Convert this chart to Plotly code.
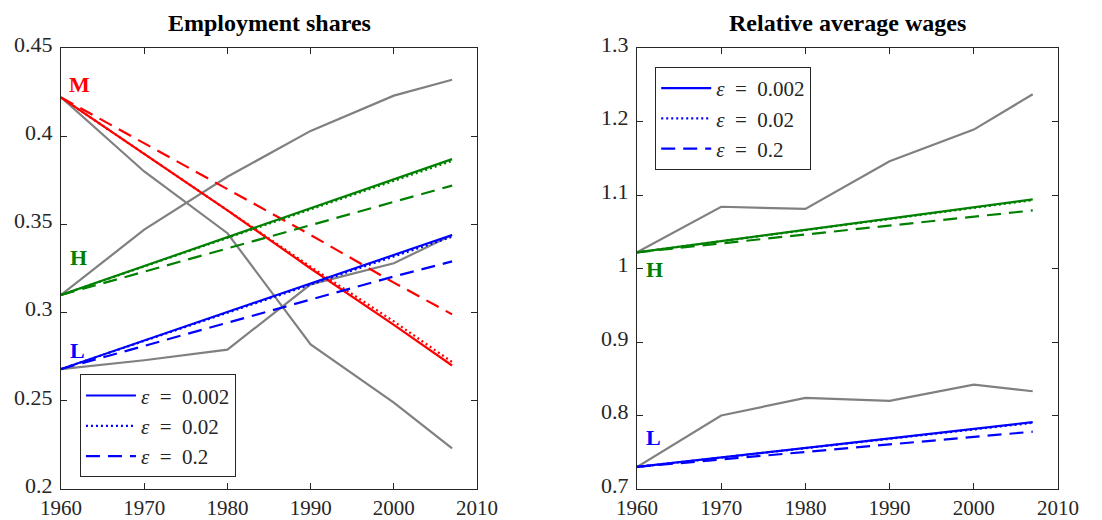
import plotly.graph_objects as go

years = [1960, 1970, 1980, 1990, 2000, 2007]

# Employment shares - data (grey)
emp_data_H = [0.310, 0.347, 0.377, 0.403, 0.423, 0.432]
emp_data_M = [0.422, 0.380, 0.345, 0.282, 0.249, 0.223]
emp_data_L = [0.268, 0.273, 0.279, 0.316, 0.328, 0.344]

# Employment shares - model
emp_M = {"0.002": [0.422, 0.390, 0.358, 0.325, 0.293, 0.270],
         "0.02":  [0.422, 0.390, 0.358, 0.326, 0.295, 0.272],
         "0.2":   [0.422, 0.396, 0.370, 0.344, 0.317, 0.299]}
emp_H = {"0.002": [0.310, 0.3264, 0.3428, 0.3592, 0.3756, 0.387],
         "0.02":  [0.310, 0.3262, 0.3423, 0.3585, 0.3747, 0.386],
         "0.2":   [0.310, 0.3232, 0.3364, 0.3496, 0.3628, 0.372]}
emp_L = {"0.002": [0.268, 0.2842, 0.3003, 0.3165, 0.3326, 0.344],
         "0.02":  [0.268, 0.2840, 0.2999, 0.3159, 0.3319, 0.343],
         "0.2":   [0.268, 0.2811, 0.2943, 0.3074, 0.3205, 0.329]}

# Relative wages - data (grey)
wage_data_H = [1.022, 1.084, 1.081, 1.146, 1.189, 1.237]
wage_data_L = [0.730, 0.800, 0.824, 0.820, 0.842, 0.833]

# Relative wages - model
wage_H = {"0.002": [1.022, 1.0373, 1.0526, 1.0679, 1.0832, 1.094],
          "0.02":  [1.022, 1.0371, 1.0523, 1.0674, 1.0826, 1.093],
          "0.2":   [1.022, 1.0340, 1.0460, 1.0581, 1.0701, 1.079]}
wage_L = {"0.002": [0.730, 0.7430, 0.7560, 0.7689, 0.7819, 0.791],
          "0.02":  [0.730, 0.7428, 0.7555, 0.7683, 0.7811, 0.790],
          "0.2":   [0.730, 0.7402, 0.7504, 0.7606, 0.7709, 0.778]}

eps_labels = ["0.002", "0.02", "0.2"]
dashes = {"0.002": "solid", "0.02": "2px,3px", "0.2": "14px,8px"}

RED, GREEN, BLUE, GREY = "#ff0000", "#008000", "#0000ff", "#808080"
FONT = "'Liberation Serif', 'Times New Roman', serif"
AX = "#262626"

fig = go.Figure()

def add(x, y, color, dash, xa, ya, width=2.2):
    fig.add_trace(go.Scatter(x=x, y=y, mode="lines", xaxis=xa, yaxis=ya,
                             line=dict(color=color, width=width, dash=dash),
                             showlegend=False, hoverinfo="skip"))

# Left panel
for series in (emp_data_H, emp_data_M, emp_data_L):
    add(years, series, GREY, "solid", "x", "y", 2.2)
for d, c in ((emp_M, RED), (emp_H, GREEN), (emp_L, BLUE)):
    for e in eps_labels:
        add(years, d[e], c, dashes[e], "x", "y")

# Right panel
for series in (wage_data_H, wage_data_L):
    add(years, series, GREY, "solid", "x2", "y2", 2.2)
for d, c in ((wage_H, GREEN), (wage_L, BLUE)):
    for e in eps_labels:
        add(years, d[e], c, dashes[e], "x2", "y2")

# Legend entries
for leg, xa, ya in (("legend", "x", "y"), ("legend2", "x2", "y2")):
    for e in eps_labels:
        fig.add_trace(go.Scatter(x=[None], y=[None], mode="lines", xaxis=xa, yaxis=ya,
                                 line=dict(color=BLUE, width=2.2, dash=dashes[e]),
                                 name=f"<i>ε</i>\u2002=\u2002{e}", legend=leg, showlegend=True))

xticks = [1960, 1970, 1980, 1990, 2000, 2010]
common_axis = dict(showgrid=False, zeroline=False, showline=True, linecolor=AX, linewidth=1,
                   mirror="allticks", ticks="inside", ticklen=6, tickcolor=AX, automargin=False)
xfont = dict(family=FONT, size=21, color=AX)
yfont = dict(family=FONT, size=22, color=AX)

fig.update_layout(
    width=1102, height=520,
    margin=dict(l=61, r=44, t=48, b=31, autoexpand=False),
    plot_bgcolor="white", paper_bgcolor="white",
    xaxis=dict(domain=[0, 0.4173], range=[1960, 2010], tickvals=xticks,
               ticktext=[str(t) for t in xticks], anchor="y", ticklabelstandoff=0,
               tickfont=xfont, **common_axis),
    yaxis=dict(domain=[0, 1], range=[0.2, 0.45],
               tickvals=[0.2, 0.25, 0.3, 0.35, 0.4, 0.45],
               ticktext=["0.2", "0.25", "0.3", "0.35", "0.4", "0.45"], anchor="x",
               ticklabelstandoff=3, ticklabelshift=-4, tickfont=yfont, **common_axis),
    xaxis2=dict(domain=[0.5777, 1], range=[1960, 2010], tickvals=xticks,
                ticktext=[str(t) for t in xticks], anchor="y2", ticklabelstandoff=0,
                tickfont=xfont, **common_axis),
    yaxis2=dict(domain=[0, 1], range=[0.7, 1.3],
                tickvals=[0.7, 0.8, 0.9, 1.0, 1.1, 1.2, 1.3],
                ticktext=["0.7", "0.8", "0.9", "1", "1.1", "1.2", "1.3"], anchor="x2",
                ticklabelstandoff=3, ticklabelshift=-4, tickfont=yfont, **common_axis),
    legend=dict(x=0.019, y=0.26, xanchor="left", yanchor="top",
                bgcolor="white", bordercolor=AX, borderwidth=1, itemwidth=50,
                font=dict(family=FONT, size=21, color=AX), tracegroupgap=0),
    legend2=dict(x=0.596, y=0.957, xanchor="left", yanchor="top",
                 bgcolor="white", bordercolor=AX, borderwidth=1, itemwidth=50,
                 font=dict(family=FONT, size=21, color=AX), tracegroupgap=0),
    showlegend=True,
)

annotations = [
    dict(text="<b>Employment shares</b>", xref="x domain", yref="paper", x=0.5, y=1.0,
         yshift=10, xanchor="center", yanchor="bottom", showarrow=False,
         font=dict(family=FONT, size=24, color="black")),
    dict(text="<b>Relative average wages</b>", xref="x2 domain", yref="paper", x=0.5, y=1.0,
         yshift=10, xanchor="center", yanchor="bottom", showarrow=False,
         font=dict(family=FONT, size=24, color="black")),
    dict(text="<b>M</b>", xref="x", yref="y", x=1960.7, y=0.4295, xanchor="left",
         showarrow=False, font=dict(family=FONT, size=22, color=RED)),
    dict(text="<b>H</b>", xref="x", yref="y", x=1960.8, y=0.331, xanchor="left",
         showarrow=False, font=dict(family=FONT, size=22, color=GREEN)),
    dict(text="<b>L</b>", xref="x", yref="y", x=1960.8, y=0.2785, xanchor="left",
         showarrow=False, font=dict(family=FONT, size=22, color=BLUE)),
    dict(text="<b>H</b>", xref="x2", yref="y2", x=1960.8, y=0.9985, xanchor="left",
         showarrow=False, font=dict(family=FONT, size=22, color=GREEN)),
    dict(text="<b>L</b>", xref="x2", yref="y2", x=1960.8, y=0.770, xanchor="left",
         showarrow=False, font=dict(family=FONT, size=22, color=BLUE)),
]
fig.update_layout(annotations=annotations)

fig.write_html("out.html")
